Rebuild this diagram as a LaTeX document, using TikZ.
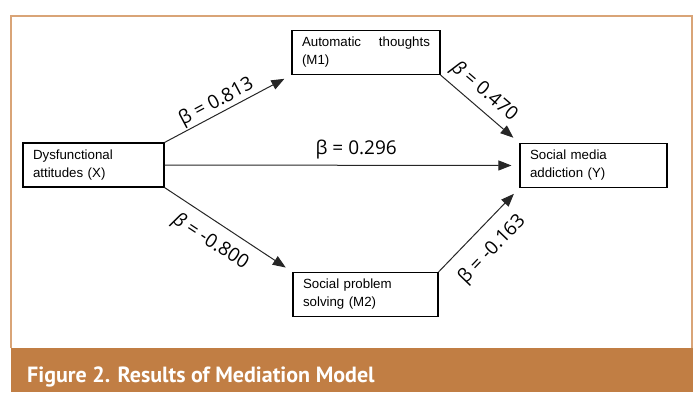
\documentclass[tikz,border=0pt]{standalone}
\usepackage{fontspec}
\setmainfont{Liberation Sans}
\newfontfamily\coeffont{Open Sans}
\newfontfamily\capfont{PT Sans}
\usepackage{tikz}
\usetikzlibrary{arrows.meta}
\definecolor{FigOrange}{HTML}{C17E44}
\definecolor{FigFrame}{HTML}{D9A477}

\begin{document}
\begin{tikzpicture}[x=1pt,y=-1pt,>={Triangle[length=13pt,width=10pt]},
  var/.style={draw,line width=1.1pt,minimum height=44pt,inner xsep=10pt,align=left,font=\fontsize{13.3}{18}\selectfont},
  effect/.style={->,line width=1pt,black!85,shorten >=8pt},
  coef/.style={font=\coeffont\fontsize{19}{21}\selectfont,sloped,inner sep=0pt,text=black}]
  \useasboundingbox (0,0) rectangle (694,392);
  % frame and caption bar
  \fill[FigOrange] (11,348) rectangle (693,392);
  \draw[FigFrame,line width=1.5pt] (11,348) -- (11,16) -- (692,16) -- (692,348);
  \node[anchor=base west,text=white,font=\capfont\bfseries\fontsize{22}{24}\selectfont,inner sep=0pt] (cap) at (27,382) {Figure 2. Results of Mediation Model};

  % variables
  \node[var,text width=121pt] (X) at (93.5,165) {Dysfunctional\\attitudes (X)};
  \node[var,text width=128pt] (M1) at (366,52.5) {Automatic\hfill thoughts\\(M1)};
  \node[var,text width=125pt] (M2) at (365.5,294.5) {Social problem\\solving (M2)};
  \node[var,text width=127pt] (Y) at (593.5,165.5) {Social media\\addiction (Y)};

  % paths
  \draw[effect] (X.north east) -- node[coef,above=1pt,pos=0.45] (a1) {β = 0.813} (M1.south west);
  \draw[effect] (M1.south east) -- node[coef,above=6pt,pos=0.42] (b1) {{\itshape β} = 0.470} (Y.north west);
  \draw[effect] (X.south east) -- node[coef,below=10pt,pos=0.445] (a2) {{\itshape β} = -0.800} (M2.north west);
  \draw[effect] (M2.north east) -- node[coef,below=13pt,pos=0.46] (b2) {β = -0.163} (Y.south west);
  \draw[effect] (X.east) -- node[coef,above=6pt,pos=0.54] (c) {β = 0.296} (Y.west);
\end{tikzpicture}
\end{document}
